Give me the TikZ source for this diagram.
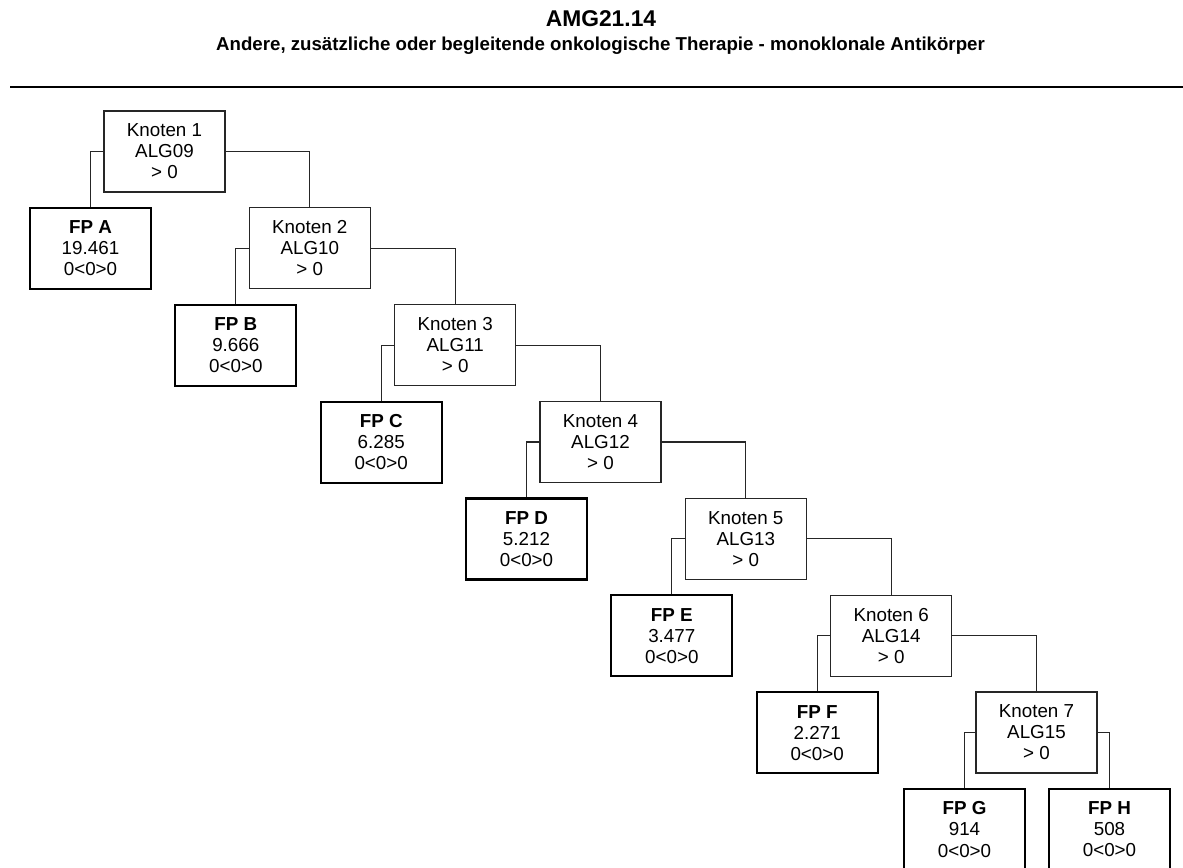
\documentclass[tikz,border=0pt]{standalone}
\usepackage{fontspec}
\setmainfont{Liberation Sans}
\tikzset{
  knot/.style={draw=black!85, line width=0.8pt, fill=white, align=center, inner sep=0pt,
    minimum width=90.75pt, minimum height=60.75pt, font=\fontsize{14.1}{15.8}\selectfont},
  leaf/.style={draw=black, line width=1.7pt, fill=white, align=center, inner sep=0pt,
    minimum width=90.75pt, minimum height=60.75pt, font=\fontsize{14.1}{15.8}\selectfont},
  conn/.style={draw=black!85, line width=0.8pt}
}
\begin{document}
\begin{tikzpicture}[x=0.75pt,y=-0.75pt]
\useasboundingbox (0,0) rectangle (1183,868);
\clip (0,0) rectangle (1183,868);
\fill[white] (0,0) rectangle (1183,868);
\node[font=\bfseries\fontsize{17.1}{18}\selectfont] (title) at (601,19) {AMG21.14};
\node[font=\bfseries\fontsize{14}{15}\selectfont] (sub) at (600.5,46) {Andere, zusätzliche oder begleitende onkologische Therapie - monoklonale Antikörper};
\draw[line width=1.6pt] (10,87) coordinate (r1) -- (1183,87) coordinate (r2);
% inner nodes
\node[knot] (k1) at (164.5,151.5) {Knoten 1\\ALG09\\> 0};
\node[knot] (k2) at (309.8,248.3) {Knoten 2\\ALG10\\> 0};
\node[knot] (k3) at (455.2,345.2) {Knoten 3\\ALG11\\> 0};
\node[knot] (k4) at (600.5,442.0) {Knoten 4\\ALG12\\> 0};
\node[knot] (k5) at (745.8,538.8) {Knoten 5\\ALG13\\> 0};
\node[knot] (k6) at (891.2,635.7) {Knoten 6\\ALG14\\> 0};
\node[knot] (k7) at (1036.5,732.5) {Knoten 7\\ALG15\\> 0};
% leaves
\node[leaf] (fa) at (90.5,248.5) {\textbf{FP A}\\19.461\\0<0>0};
\node[leaf] (fb) at (235.8,345.3) {\textbf{FP B}\\9.666\\0<0>0};
\node[leaf] (fc) at (381.2,442.2) {\textbf{FP C}\\6.285\\0<0>0};
\node[leaf] (fd) at (526.5,539.0) {\textbf{FP D}\\5.212\\0<0>0};
\node[leaf] (fe) at (671.8,635.8) {\textbf{FP E}\\3.477\\0<0>0};
\node[leaf] (ff) at (817.2,732.7) {\textbf{FP F}\\2.271\\0<0>0};
\node[leaf] (fg) at (964.5,829.5) {\textbf{FP G}\\914\\0<0>0};
\node[leaf] (fh) at (1109.5,829.5) {\textbf{FP H}\\508\\0<0>0};
% connectors
\draw[conn] (k1.west) -| (fa.north);
\draw[conn] (k1.east) -| (k2.north);
\draw[conn] (k2.west) -| (fb.north);
\draw[conn] (k2.east) -| (k3.north);
\draw[conn] (k3.west) -| (fc.north);
\draw[conn] (k3.east) -| (k4.north);
\draw[conn] (k4.west) -| (fd.north);
\draw[conn] (k4.east) -| (k5.north);
\draw[conn] (k5.west) -| (fe.north);
\draw[conn] (k5.east) -| (k6.north);
\draw[conn] (k6.west) -| (ff.north);
\draw[conn] (k6.east) -| (k7.north);
\draw[conn] (k7.west) -| (fg.north);
\draw[conn] (k7.east) -| (fh.north);
\end{tikzpicture}
\end{document}
